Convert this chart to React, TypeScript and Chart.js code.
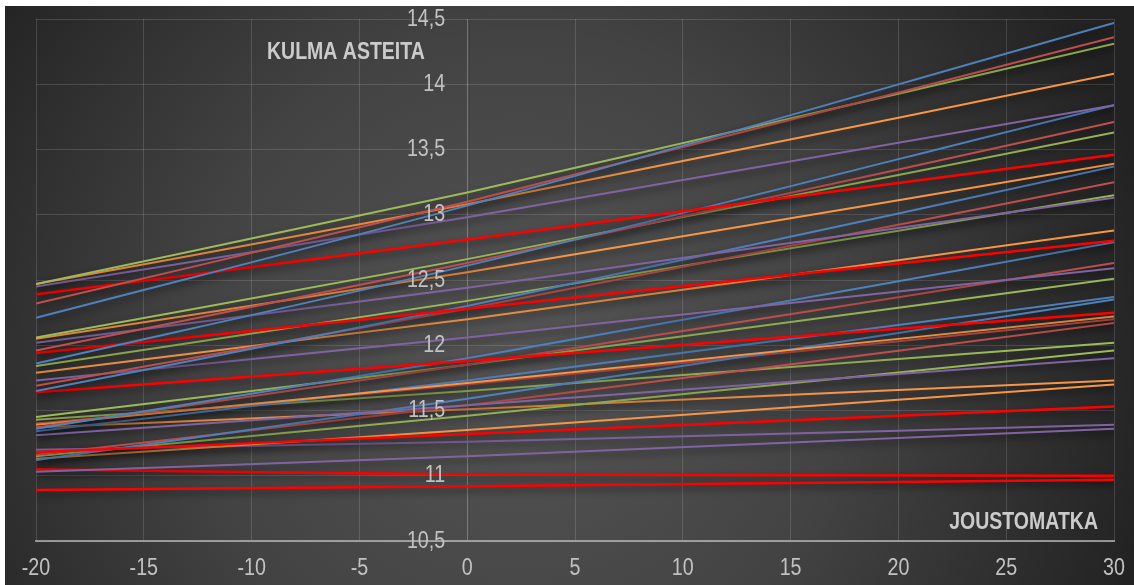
import { useEffect, useRef } from 'react';
import Chart from 'chart.js/auto';

// ---- data ----
const X_VALUES = [-20, 0, 30];
const X_TICKS = [-20, -15, -10, -5, 0, 5, 10, 15, 20, 25, 30];
const Y_TICKS = [10.5, 11, 11.5, 12, 12.5, 13, 13.5, 14, 14.5];
const TITLE_Y = 'KULMA ASTEITA';
const TITLE_X = 'JOUSTOMATKA';

// each colour: six series (y at X_VALUES)
const BLUE_SERIES = [
  [12.21, 13.07, 14.47],
  [11.86, 12.61, 13.84],
  [11.65, 12.30, 13.37],
  [11.36, 11.90, 12.79],
  [11.12, 11.59, 12.35],
  [11.34, 11.73, 12.37],
];
const DARKRED_SERIES = [
  [12.32, 13.10, 14.36],
  [11.96, 12.63, 13.71],
  [11.69, 12.28, 13.25],
  [11.37, 11.85, 12.63],
  [11.16, 11.54, 12.17],
  [11.40, 11.70, 12.20],
];
const GREEN_SERIES = [
  [12.47, 13.17, 14.31],
  [12.06, 12.66, 13.63],
  [11.84, 12.34, 13.15],
  [11.45, 11.85, 12.51],
  [11.15, 11.46, 11.96],
  [11.43, 11.65, 12.02],
];
const PURPLE_SERIES = [
  [12.45, 12.98, 13.84],
  [12.02, 12.44, 13.13],
  [11.73, 12.06, 12.59],
  [11.31, 11.54, 11.90],
  [11.03, 11.15, 11.36],
  [11.20, 11.26, 11.39],
];
const ORANGE_SERIES = [
  [12.47, 13.08, 14.08],
  [12.05, 12.56, 13.39],
  [11.79, 12.20, 12.88],
  [11.39, 11.71, 12.22],
  [11.13, 11.35, 11.70],
  [11.37, 11.51, 11.73],
];
const RED_SERIES = [
  [12.39, 12.81, 13.46],
  [11.94, 12.28, 12.80],
  [11.64, 11.88, 12.25],
  [11.18, 11.32, 11.53],
  [10.89, 10.92, 10.97],
  [11.05, 11.01, 11.00],
];

const COLOR_BLUE = '#4F81BD';
const COLOR_DARKRED = '#C0504D';
const COLOR_GREEN = '#9BBB59';
const COLOR_PURPLE = '#8064A2';
const COLOR_ORANGE = '#F79646';
const COLOR_RED = '#FF0000';

const FONT = "'Liberation Sans', Arial, sans-serif";
const NARROW = 0.82;

const bgPlugin = {
  id: 'bg',
  beforeDraw(chart: any) {
    const { ctx, width, height } = chart;
    ctx.save();
    const g = ctx.createRadialGradient(515, 354, 0, 515, 354, 650);
    g.addColorStop(0, '#555555');
    g.addColorStop(0.5, '#434343');
    g.addColorStop(1, '#222222');
    ctx.fillStyle = g;
    ctx.fillRect(0, 0, width, height);
    ctx.restore();
  },
};

const shadowPlugin = {
  id: 'shadow',
  beforeDatasetsDraw(chart: any) {
    const ctx = chart.ctx;
    ctx.save();
    ctx.shadowColor = 'rgba(0,0,0,0.55)';
    ctx.shadowBlur = 7;
    ctx.shadowOffsetX = 1;
    ctx.shadowOffsetY = 4;
  },
  afterDatasetsDraw(chart: any) {
    chart.ctx.restore();
  },
};

function narrowText(ctx: any, text: string, x: number, y: number, align: string, sx: number) {
  ctx.save();
  ctx.translate(x, y);
  ctx.scale(sx, 1);
  ctx.textAlign = align;
  ctx.fillText(text, 0, 0);
  ctx.restore();
}

const textPlugin = {
  id: 'texts',
  afterDraw(chart: any) {
    const { ctx, chartArea } = chart;
    const xs = chart.scales.x;
    const ys = chart.scales.y;
    ctx.save();
    ctx.fillStyle = '#c2c2c2';
    ctx.font = `24px ${FONT}`;
    ctx.textBaseline = 'middle';
    const x0 = xs.getPixelForValue(0);
    Y_TICKS.forEach((v) => {
      narrowText(ctx, String(v).replace('.', ','), x0 - 22, ys.getPixelForValue(v), 'right', NARROW);
    });
    X_TICKS.forEach((v) => {
      narrowText(ctx, String(v), xs.getPixelForValue(v), chartArea.bottom + 27, 'center', NARROW);
    });
    ctx.fillStyle = '#cbcbcb';
    ctx.font = `bold 23.5px ${FONT}`;
    narrowText(ctx, TITLE_Y, chartArea.left + 231, chartArea.top + 34, 'left', 0.83);
    narrowText(ctx, TITLE_X, chartArea.right - 16, chartArea.bottom - 18, 'right', 0.83);
    ctx.restore();
  },
};

export default function App() {
  const ref = useRef<HTMLCanvasElement>(null);
  useEffect(() => {
    document.body.style.margin = '0';
    const canvas = ref.current!;
    const colorSets = [
      [BLUE_SERIES, COLOR_BLUE],
      [DARKRED_SERIES, COLOR_DARKRED],
      [GREEN_SERIES, COLOR_GREEN],
      [PURPLE_SERIES, COLOR_PURPLE],
      [ORANGE_SERIES, COLOR_ORANGE],
      [RED_SERIES, COLOR_RED],
    ] as const;
    const datasets: any[] = [];
    for (let g = 0; g < 6; g++) {
      colorSets.forEach(([series, color], c) => {
        const vals = series[g];
        datasets.push({
          label: `S${g + 1}-${c + 1}`,
          data: X_VALUES.map((x, i) => ({ x, y: vals[i] })),
          showLine: true,
          borderColor: color,
          backgroundColor: color,
          borderWidth: c === 5 ? 2.5 : 2,
          pointRadius: 0,
          pointHoverRadius: 0,
          cubicInterpolationMode: 'monotone',
          fill: false,
        });
      });
    }
    const gridColor = (ctx: any) =>
      ctx.tick && ctx.tick.value === 0 ? 'rgba(255,255,255,0.28)' : 'rgba(255,255,255,0.14)';
    const chart = new Chart(canvas, {
      type: 'scatter',
      data: { datasets },
      options: {
        animation: false,
        responsive: true,
        maintainAspectRatio: false,
        layout: { padding: { left: 31, top: 13, right: 20, bottom: 44 } },
        plugins: { legend: { display: false }, tooltip: { enabled: false } },
        scales: {
          x: {
            type: 'linear',
            min: -20,
            max: 30,
            ticks: { stepSize: 5, display: false },
            grid: { color: gridColor, lineWidth: 1, drawTicks: false },
            border: { display: true, color: 'rgba(190,190,190,0.7)', width: 2 },
          },
          y: {
            type: 'linear',
            min: 10.5,
            max: 14.5,
            ticks: { stepSize: 0.5, display: false },
            grid: { color: 'rgba(255,255,255,0.14)', lineWidth: 1, drawTicks: false },
            border: { display: false },
          },
        },
      },
      plugins: [bgPlugin, shadowPlugin, textPlugin],
    });
    return () => chart.destroy();
  }, []);
  return (
    <div style={{ position: 'absolute', left: 5, top: 6, width: 1129, height: 579 }}>
      <canvas ref={ref} />
    </div>
  );
}
